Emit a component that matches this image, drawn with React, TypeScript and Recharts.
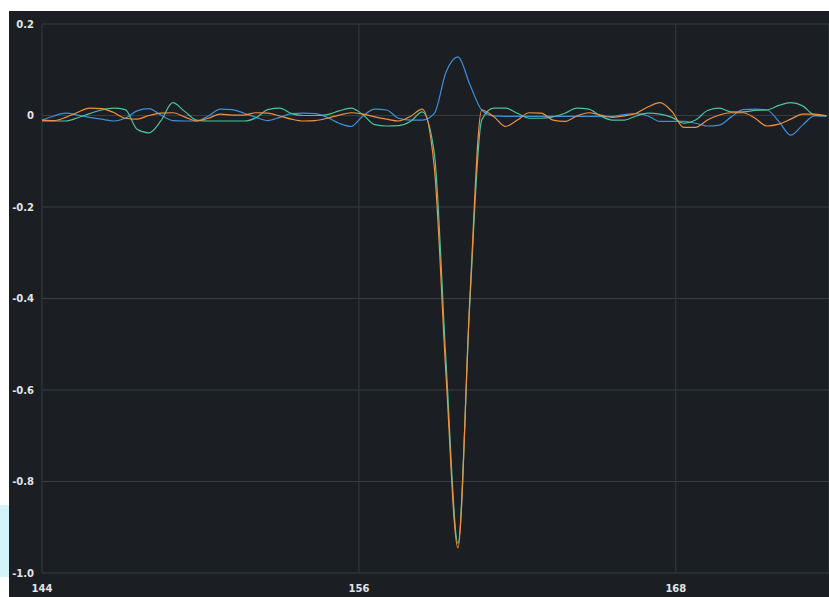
import React from "react";
import { LineChart, Line, XAxis, YAxis, CartesianGrid } from "recharts";

const xValues = [
  144, 144.45, 144.9, 145.35, 145.8, 146.25, 146.7, 147.15, 147.6, 148.05,
  148.5, 148.95, 149.4, 149.85, 150.3, 150.75, 151.2, 151.65, 152.1, 152.55,
  153, 153.45, 153.9, 154.35, 154.8, 155.25, 155.7, 156.15, 156.6, 157.05,
  157.5, 157.95, 158.4, 158.85, 159.3, 159.75, 160.2, 160.65, 161.1, 161.55,
  162, 162.45, 162.9, 163.35, 163.8, 164.25, 164.7, 165.15, 165.6, 166.05,
  166.5, 166.95, 167.4, 167.85, 168.3, 168.75, 169.2, 169.65, 170.1, 170.55,
  171, 171.45, 171.9, 172.35, 172.8, 173.25, 173.7,
];

const orangeValues = [
  -0.010, -0.011, -0.004, 0.007, 0.016, 0.015, 0.007, -0.006, -0.008, 0.0,
  0.005, 0.006, -0.003, -0.012, -0.006, 0.003, 0.001, 0.001, 0.006, 0.005,
  -0.001, -0.008, -0.012, -0.011, -0.006, 0.001, 0.006, 0.003, -0.003, -0.008,
  -0.012, -0.002, 0.014, -0.11, -0.57, -0.945, -0.40, 0.012, -0.002, -0.024,
  -0.010, 0.006, 0.005, -0.010, -0.013, -0.001, 0.006, 0.001, -0.004, -0.001,
  0.005, 0.019, 0.028, 0.009, -0.026, -0.026, -0.010, 0.001, 0.006, 0.006,
  -0.006, -0.023, -0.019, -0.008, 0.003, 0.003, -0.001,
];

const greenValues = [
  -0.012, -0.012, -0.012, -0.005, 0.004, 0.012, 0.016, 0.013, -0.030, -0.038,
  -0.012, 0.028, 0.009, -0.010, -0.012, -0.012, -0.012, -0.012, -0.005, 0.013,
  0.016, 0.004, 0.0, 0.0, 0.002, 0.010, 0.016, 0.002, -0.020, -0.023,
  -0.022, -0.013, 0.008, -0.08, -0.54, -0.935, -0.41, -0.010, 0.016, 0.016,
  0.005, -0.006, -0.006, -0.003, 0.005, 0.016, 0.014, -0.001, -0.010, -0.010,
  -0.001, 0.005, 0.003, -0.004, -0.017, -0.010, 0.011, 0.016, 0.008, 0.008,
  0.011, 0.012, 0.022, 0.028, 0.021, 0.001, -0.001,
];

const blueValues = [
  -0.010, -0.001, 0.005, 0.001, -0.004, -0.008, -0.012, -0.006, 0.010, 0.015,
  0.001, -0.011, -0.012, -0.012, -0.001, 0.014, 0.013, 0.005, -0.004, -0.011,
  -0.004, 0.004, 0.005, 0.004, -0.004, -0.017, -0.024, -0.001, 0.014, 0.012,
  -0.006, -0.010, -0.010, 0.004, 0.095, 0.128, 0.068, 0.012, -0.001, -0.002,
  -0.002, -0.002, -0.002, -0.002, -0.002, -0.002, -0.002, -0.002, -0.002, 0.002,
  0.004, -0.001, -0.013, -0.013, -0.013, -0.017, -0.023, -0.021, -0.003, 0.013,
  0.014, 0.012, -0.013, -0.043, -0.021, -0.001, -0.001,
];

const xTicks = [144, 156, 168];
const yTicks = [0.2, 0, -0.2, -0.4, -0.6, -0.8, -1.0];

const data = xValues.map((x, i) => ({
  x,
  orange: orangeValues[i],
  green: greenValues[i],
  blue: blueValues[i],
}));

const tickStyle = {
  fill: "#e2e4e6",
  fontSize: 10,
  fontWeight: 600,
  fontFamily: "DejaVu Sans, sans-serif",
};

const fmtY = (v: number) => (v === -1 ? "-1.0" : String(v));

export default function App() {
  return (
    <div>
      <div
        style={{
          position: "fixed",
          left: 0,
          top: 505,
          width: 9,
          height: 72,
          background: "#d3f5fa",
        }}
      />
      <div
        style={{
          position: "fixed",
          left: 9,
          top: 11,
          width: 820,
          height: 586,
          background: "#1b1f23",
        }}
      >
        <LineChart
          width={820}
          height={586}
          data={data}
          margin={{ top: 13, right: 0, bottom: 0, left: 0 }}
        >
          <CartesianGrid stroke="#373c41" strokeWidth={1} />
          <XAxis
            dataKey="x"
            type="number"
            domain={[144, 173.8]}
            ticks={xTicks}
            axisLine={false}
            tickLine={false}
            tickMargin={6}
            height={24}
            tick={tickStyle}
            allowDataOverflow
          />
          <YAxis
            type="number"
            domain={[-1, 0.2]}
            ticks={yTicks}
            axisLine={false}
            tickLine={false}
            width={33}
            tick={tickStyle}
            tickFormatter={fmtY}
            allowDataOverflow
          />
          <Line
            type="monotone"
            dataKey="blue"
            stroke="#3d8fdc"
            strokeWidth={1.2}
            dot={false}
            isAnimationActive={false}
          />
          <Line
            type="monotone"
            dataKey="green"
            stroke="#4fc29a"
            strokeWidth={1.2}
            dot={false}
            isAnimationActive={false}
          />
          <Line
            type="monotone"
            dataKey="orange"
            stroke="#ee9040"
            strokeWidth={1.2}
            dot={false}
            isAnimationActive={false}
          />
        </LineChart>
      </div>
    </div>
  );
}
